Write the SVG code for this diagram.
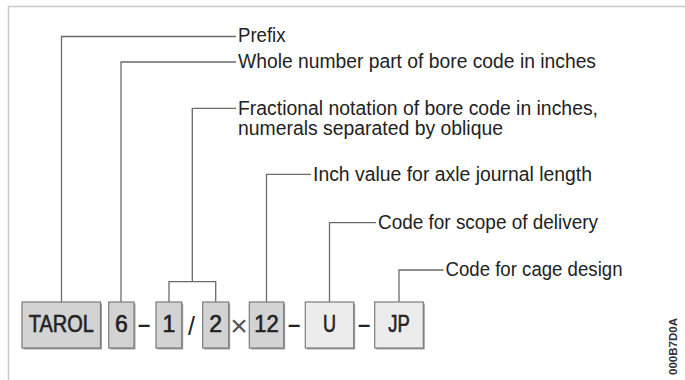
<svg xmlns="http://www.w3.org/2000/svg" width="685" height="380" viewBox="0 0 685 380">
<style>
.frame{fill:none;stroke:#c9c9c9;stroke-width:1.5}
.conn{fill:none;stroke:#6b6b6b;stroke-width:1.3}
.lbl{font-family:"Liberation Sans",Arial,sans-serif;font-size:20px;fill:#222}
.shadow{fill:#a0a0a0}
.dark{fill:#d3d3d3;stroke:#7c7c7c;stroke-width:1.2}
.light{fill:#ececec;stroke:#7c7c7c;stroke-width:1.2}
.code{font-family:"Liberation Sans",Arial,sans-serif;font-size:23px;fill:#222;stroke:#222;stroke-width:0.6;text-anchor:middle}
.sep{font-family:"Liberation Sans",Arial,sans-serif;font-size:22px;fill:#222;text-anchor:middle}
.ref{font-family:"Liberation Sans",Arial,sans-serif;font-size:11.5px;font-weight:bold;fill:#333}
</style>
<path class="frame" d="M8.5,380 V6.5 H685"/>
<g id="connectors">
<path class="conn" d="M61.5,302 V36.5 H236"/>
<path class="conn" d="M121,302 V62 H236"/>
<path class="conn" d="M169,302 V281.7 H215.7 V302"/>
<path class="conn" d="M192.3,281.7 V108.3 H236"/>
<path class="conn" d="M266.5,302 V174.3 H311"/>
<path class="conn" d="M329.5,302 V222.7 H376"/>
<path class="conn" d="M399,302 V270 H443.5"/>
</g>
<g id="label-prefix"><text class="lbl" x="238" y="41.5" textLength="47.5" lengthAdjust="spacingAndGlyphs">Prefix</text></g>
<g id="label-whole"><text class="lbl" x="238" y="67.5" textLength="358" lengthAdjust="spacingAndGlyphs">Whole number part of bore code in inches</text></g>
<g id="label-fraction">
<text class="lbl" x="238" y="114.5" textLength="360" lengthAdjust="spacingAndGlyphs">Fractional notation of bore code in inches,</text>
<text class="lbl" x="238" y="134.5" textLength="265" lengthAdjust="spacingAndGlyphs">numerals separated by oblique</text>
</g>
<g id="label-inch"><text class="lbl" x="313" y="180.5" textLength="279" lengthAdjust="spacingAndGlyphs">Inch value for axle journal length</text></g>
<g id="label-scope"><text class="lbl" x="378" y="228.5" textLength="220" lengthAdjust="spacingAndGlyphs">Code for scope of delivery</text></g>
<g id="label-cage"><text class="lbl" x="445.5" y="276" textLength="177" lengthAdjust="spacingAndGlyphs">Code for cage design</text></g>

<g id="box-tarol">
<rect class="shadow" x="23.5" y="303.5" width="78.5" height="46"/>
<rect class="dark" x="22" y="302" width="78.5" height="46"/>
<text class="code" x="61.3" y="332" textLength="65" lengthAdjust="spacingAndGlyphs">TAROL</text>
</g>
<g id="box-6">
<rect class="shadow" x="110.2" y="303.5" width="25.3" height="46"/>
<rect class="dark" x="108.7" y="302" width="25.3" height="46"/>
<text class="code" x="121.3" y="332">6</text>
</g>
<g id="box-1">
<rect class="shadow" x="157.5" y="303.5" width="25.7" height="46"/>
<rect class="dark" x="156" y="302" width="25.7" height="46"/>
<text class="code" x="168.9" y="332">1</text>
</g>
<g id="box-2">
<rect class="shadow" x="204.2" y="303.5" width="26" height="46"/>
<rect class="dark" x="202.7" y="302" width="26" height="46"/>
<text class="code" x="215.7" y="332">2</text>
</g>
<g id="box-12">
<rect class="shadow" x="250.8" y="303.5" width="34.4" height="46"/>
<rect class="dark" x="249.3" y="302" width="34.4" height="46"/>
<text class="code" x="266.5" y="332" textLength="24.5" lengthAdjust="spacingAndGlyphs">12</text>
</g>
<g id="box-u">
<rect class="shadow" x="306.8" y="303.5" width="48.4" height="46"/>
<rect class="light" x="305.3" y="302" width="48.4" height="46"/>
<text class="code" x="329.5" y="332" textLength="13" lengthAdjust="spacingAndGlyphs">U</text>
</g>
<g id="box-jp">
<rect class="shadow" x="376.2" y="303.5" width="48.6" height="46"/>
<rect class="light" x="374.7" y="302" width="48.6" height="46"/>
<text class="code" x="399" y="332" textLength="21.5" lengthAdjust="spacingAndGlyphs">JP</text>
</g>

<g id="separators">
<text class="sep" x="144" y="331.7" style="font-weight:bold">–</text>
<text class="sep" x="191.5" y="334.5" style="font-size:25px">/</text>
<text class="sep" x="239" y="336" style="font-size:30px;fill:#555">×</text>
<text class="sep" x="294" y="331.7" style="font-weight:bold">–</text>
<text class="sep" x="364" y="331.7" style="font-weight:bold">–</text>
</g>
<text class="ref" transform="translate(676.5,375) rotate(-90)" textLength="57" lengthAdjust="spacingAndGlyphs">000B7D0A</text>
</svg>
